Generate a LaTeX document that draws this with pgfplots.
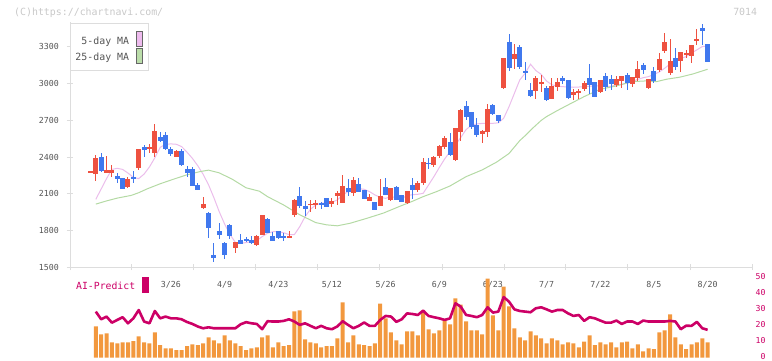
\documentclass[border=0pt]{standalone}
\usepackage{pgfplots}
\pgfplotsset{compat=1.18}
\usepackage{pgfplotstable}
\usepackage{fontspec}
\setmainfont{DejaVu Sans Mono}
\definecolor{upred}{HTML}{EE5140}
\definecolor{downblue}{HTML}{4078EE}
\definecolor{mafive}{HTML}{EBBDEB}
\definecolor{matwentyfive}{HTML}{B4DAA4}
\definecolor{mafivefill}{HTML}{EEBBEE}
\definecolor{matwentyfivefill}{HTML}{BBDDAA}
\definecolor{volorange}{HTML}{F2983E}
\definecolor{aimag}{HTML}{CC0066}
\definecolor{axisgray}{HTML}{DDDDDD}
\definecolor{labelgray}{HTML}{555555}
\definecolor{wmgray}{HTML}{C8C8C8}
\newcommand\tickfont{\fontsize{8.3}{9}\selectfont}
\newcommand\bigfont{\fontsize{9.9}{11}\selectfont}

\pgfplotstableread{
i o h l c
-1 2282 2282 2282 2282
0 2266 2418 2206 2394
2 2274 2410 2268 2296
3 2268 2334 2236 2296
6 2160 2241 2151 2219
8 2309 2467 2296 2467
10 2467 2508 2432 2481
11 2432 2671 2404 2614
15 2404 2459 2399 2451
20 1988 2073 1977 2015
26 1662 1708 1616 1708
30 1686 1763 1675 1757
31 1768 1928 1765 1928
36 1746 1795 1743 1757
37 1931 2056 1915 2051
40 2013 2053 1955 2021
41 2010 2048 1980 2026
44 2018 2064 1996 2045
45 2086 2127 2010 2108
46 2026 2255 2026 2165
48 2105 2238 2086 2214
51 2045 2100 2045 2075
53 2002 2222 2002 2083
55 2051 2149 2045 2149
58 2024 2124 2018 2124
60 2132 2208 2119 2190
61 2192 2393 2170 2361
63 2336 2407 2323 2402
64 2410 2502 2396 2491
65 2486 2573 2464 2560
67 2377 2638 2369 2638
68 2609 2793 2535 2785
72 2592 2622 2519 2614
73 2609 2834 2568 2793
76 2967 3209 2959 3209
78 3202 3324 3117 3242
82 2940 3063 2875 3049
83 3006 3071 2935 3010
85 2875 3044 2875 2984
86 2976 3044 2943 3014
89 2905 2959 2867 2932
90 2927 2957 2878 2943
91 2959 3017 2943 3006
94 2935 3030 2927 3030
97 2989 3063 2973 3036
98 3025 3063 2962 3063
100 3000 3057 2976 3057
101 3044 3185 3022 3117
103 2965 3038 2959 3038
105 3112 3253 3093 3199
106 3269 3411 3253 3342
107 3090 3364 3071 3185
109 3188 3258 3098 3258
110 3231 3275 3207 3247
111 3226 3316 3166 3316
112 3345 3448 3316 3362
}\uptable

\pgfplotstableread{
i o h l c
1 2404 2437 2276 2287
4 2247 2274 2187 2225
5 2230 2232 2141 2143
7 2238 2287 2187 2222
9 2486 2502 2404 2456
12 2562 2603 2527 2532
13 2581 2606 2459 2464
14 2467 2481 2413 2426
16 2451 2464 2328 2336
17 2304 2328 2241 2274
18 2304 2323 2162 2168
19 2170 2192 2130 2132
21 1942 1953 1744 1825
22 1605 1700 1548 1580
23 1798 1860 1735 1768
24 1700 1708 1567 1605
25 1844 1852 1732 1757
27 1722 1771 1692 1695
28 1735 1746 1705 1719
29 1724 1757 1692 1700
32 1896 1901 1779 1784
33 1757 1792 1719 1719
34 1795 1798 1735 1738
35 1760 1779 1719 1743
38 2084 2157 1983 2004
39 2002 2043 1923 1980
42 2026 2034 1980 2015
43 2064 2064 1993 1996
47 2149 2222 2086 2113
49 2181 2230 2113 2113
50 2132 2132 2062 2062
52 2034 2034 1969 1969
54 2157 2230 2089 2094
56 2160 2168 2051 2051
57 2089 2089 2034 2034
59 2170 2230 2056 2132
62 2352 2393 2306 2348
66 2524 2600 2410 2418
69 2818 2859 2704 2731
70 2769 2769 2633 2649
71 2665 2717 2562 2581
74 2826 2834 2742 2750
75 2742 2742 2682 2696
77 3340 3405 3106 3125
79 3297 3318 3117 3139
80 3104 3174 3030 3090
81 2948 3006 2894 2902
84 2965 2981 2861 2867
87 3046 3063 2997 3022
88 3030 3030 2872 2880
92 3046 3163 2916 2986
93 3014 3014 2889 2894
95 3063 3084 2943 2976
96 3038 3073 2951 2997
99 3071 3084 2949 3003
102 3155 3169 3079 3111
104 3103 3139 3003 3022
108 3210 3291 3112 3139
113 3454 3486 3316 3432
114 3324 3324 3172 3172
}\downtable

\pgfplotsset{candle/.style 2 args={draw=none, mark=none, forget plot,
  error bars/.cd, y dir=both, y explicit, error mark=none,
  error bar style={draw=#1, line width=#2}}}

\begin{document}
\begin{tikzpicture}[x=1pt,y=1pt]
\useasboundingbox (0,0) rectangle (772,361);
\begin{axis}[
  at={(70pt,93.5pt)}, anchor=south west,
  scale only axis, width=682pt, height=245.5pt,
  xmin=-4.807, xmax=122.27, ymin=1500, ymax=3502.3,
  clip=false,
  axis x line*=bottom, axis y line*=left,
  axis line style={draw=axisgray, line width=1pt},
  tick style={draw=axisgray, line width=1pt},
  tick align=center, major tick length=6pt,
  xtick={-4.807,6.745,18.297,29.85,41.40,52.95,64.51,76.06,87.61,99.16,110.72,122.27},
  xticklabels={},
  extra x ticks={14,24,34,44,54,64,74,84,94,104,114},
  extra x tick labels={3/26,4/9,4/23,5/12,5/26,6/9,6/23,7/7,7/22,8/5,8/20},
  extra x tick style={tick style={draw=none},
    xticklabel style={anchor=base, yshift=-17.5pt, inner sep=0pt, font=\tickfont, text=labelgray}},
  ytick={1500,1800,2100,2400,2700,3000,3300},
  yticklabels={1500,1800,2100,2400,2700,3000,3300},
  yticklabel style={anchor=east, inner sep=0pt, xshift=-8pt, font=\tickfont, text=labelgray},
]
\addplot[mafive, line width=1pt] coordinates {
(0,2056)(1,2140)(2,2225)(3,2300)(4,2309)(5,2300)(6,2270)(7,2235)(8,2225)(9,2262)
(10,2320)(11,2395)(12,2480)(13,2505)(14,2508)(15,2505)(16,2486)(17,2440)(18,2390)(19,2330)
(20,2260)(21,2175)(22,2070)(23,1955)(24,1855)(25,1770)(26,1705)(27,1697)(28,1703)(29,1711)
(30,1719)(31,1752)(32,1779)(33,1792)(34,1792)(35,1784)(36,1768)(37,1768)(38,1833)(39,1915)
(40,1975)(41,2010)(42,2024)(43,2024)(44,2032)(45,2051)(46,2092)(47,2119)(48,2138)(49,2143)
(50,2138)(51,2119)(52,2092)(53,2073)(54,2064)(55,2078)(56,2070)(57,2064)(58,2086)(59,2094)
(60,2097)(61,2105)(62,2173)(63,2241)(64,2315)(65,2385)(66,2445)(67,2500)(68,2560)(69,2625)
(70,2660)(71,2671)(72,2675)(73,2676)(74,2676)(75,2680)(76,2717)(77,2812)(78,2921)(79,3030)
(80,3084)(81,3158)(82,3106)(83,3075)(84,3020)(85,2990)(86,2978)(87,2975)(88,2972)(89,2970)
(90,2972)(91,2975)(92,2978)(93,2980)(94,2981)(95,2978)(96,2978)(97,2989)(98,2995)(99,3003)
(100,3016)(101,3035)(102,3048)(103,3057)(104,3075)(105,3095)(106,3125)(107,3160)(108,3193)(109,3205)
(110,3220)(111,3250)(112,3275)(113,3302)(114,3305)};
\addplot[matwentyfive, line width=1pt] coordinates {
(0,2017)(2,2043)(4,2066)(6.6,2088)(8,2110)(9.5,2140)(12,2183)(14.4,2219)(16.9,2255)(19.4,2282)
(21,2294)(23,2272)(25.5,2218)(28,2150)(30.5,2122)(32,2078)(35,2010)(38,1930)(41,1866)(43,1848)
(45,1840)(47.4,1861)(50.5,1901)(53.6,1944)(56.7,2000)(59,2040)(61,2078)(63.5,2119)(66,2165)(69,2241)
(72,2296)(74.7,2360)(77,2430)(79,2535)(80,2575)(81.5,2640)(83,2700)(84,2731)(86,2780)(88,2826)
(91,2894)(94,2954)(97,2981)(100,3016)(102.6,3022)(104.5,3016)(106.4,3036)(108.8,3052)(111.3,3079)(114,3117)};
% wicks
\addplot[candle={upred}{1pt}]
  table[x=i, y expr={(\thisrow{h}+\thisrow{l})/2}, y error expr={(\thisrow{h}-\thisrow{l})/2}] {\uptable};
\addplot[candle={downblue}{1pt}]
  table[x=i, y expr={(\thisrow{h}+\thisrow{l})/2}, y error expr={(\thisrow{h}-\thisrow{l})/2}] {\downtable};
% bodies
\addplot[candle={upred}{5pt}]
  table[x=i, y expr={(\thisrow{o}+\thisrow{c})/2}, y error expr={max(abs(\thisrow{c}-\thisrow{o})/2,4)}] {\uptable};
\addplot[candle={downblue}{5pt}]
  table[x=i, y expr={(\thisrow{o}+\thisrow{c})/2}, y error expr={max(abs(\thisrow{c}-\thisrow{o})/2,4)}] {\downtable};
\end{axis}

\begin{axis}[
  at={(70pt,3.3pt)}, anchor=south west,
  scale only axis, width=682pt, height=80pt,
  xmin=-4.807, xmax=122.27, ymin=0, ymax=50,
  axis x line=none, axis y line*=right,
  y axis line style={draw=none},
  major tick length=0pt, tick style={draw=none},
  ytick={0,10,20,30,40,50},
  yticklabels={0,10,20,30,40,50},
  yticklabel style={anchor=east, inner sep=0pt, xshift=13.7pt, yshift=1.2pt, font=\fontsize{8.2}{9}\selectfont, text=aimag},
]
\addplot[ybar, bar width=4pt, bar shift=0pt, fill=volorange, draw=none] coordinates {
(0,19.6)(1,14.6)(2,15.2)(3,9.6)(4,9.0)(5,9.6)(6,9.6)(7,10.4)(8,13.3)(9,9.6)
(10,9.0)(11,15.8)(12,7.8)(13,5.9)(14,5.9)(15,4.7)(16,4.7)(17,7.2)(18,8.4)(19,7.8)
(20,9.0)(21,12.7)(22,10.8)(23,9.0)(24,14.0)(25,10.8)(26,9.0)(27,7.2)(28,4.7)(29,5.9)
(30,6.5)(31,12.7)(32,14.0)(33,6.5)(34,9.6)(35,7.2)(36,7.8)(37,28.9)(38,29.5)(39,11.5)
(40,9.6)(41,9.0)(42,6.5)(43,7.2)(44,7.2)(45,12.1)(46,34.5)(47,9.6)(48,14.0)(49,8.4)
(50,7.8)(51,7.2)(52,9.0)(53,33.8)(54,24.5)(55,15.8)(56,10.8)(57,8.4)(58,16.4)(59,16.4)
(60,14.0)(61,29.5)(62,17.7)(63,15.2)(64,17.0)(65,23.3)(66,20.8)(67,37.0)(68,33.2)(69,22.7)
(70,17.0)(71,17.0)(72,14.6)(73,49.4)(74,26.4)(75,17.0)(76,44.4)(77,32.0)(78,18.3)(79,12.7)
(80,10.8)(81,16.4)(82,14.0)(83,12.1)(84,9.0)(85,12.1)(86,10.8)(87,8.4)(88,9.6)(89,9.0)
(90,6.5)(91,10.1)(92,14.0)(93,7.8)(94,9.6)(95,8.4)(96,9.6)(97,6.5)(98,9.6)(99,10.1)
(100,5.9)(101,8.4)(102,4.0)(103,5.9)(104,5.3)(105,15.8)(106,17.0)(107,27.0)(108,12.7)(109,8.4)
(110,5.3)(111,8.4)(112,9.6)(113,12.1)(114,9.6)};
\addplot[aimag, line width=2.6pt, line join=round] coordinates {
(0,28.8)(1,24.0)(2,25.7)(3,21.9)(4,23.6)(5,25.3)(6,21.5)(7,24.6)(8,29.8)(9,22.6)
(10,21.5)(11,29.2)(12,24.6)(13,25.7)(14,24.6)(15,24.6)(16,24.0)(17,22.3)(18,21.1)(19,19.5)
(20,18.4)(21,19.0)(22,18.4)(23,18.4)(24,18.4)(25,18.4)(26,18.4)(27,20.9)(28,22.2)(29,21.5)
(30,21.1)(31,17.8)(32,22.8)(33,22.6)(34,22.6)(35,23.0)(36,24.0)(37,22.6)(38,20.5)(39,21.5)
(40,19.9)(41,18.4)(42,19.9)(43,18.4)(44,17.8)(45,19.5)(46,22.8)(47,20.5)(48,18.4)(49,19.9)
(50,22.0)(51,19.9)(52,19.9)(53,23.6)(54,26.1)(55,25.7)(56,22.4)(57,24.0)(58,27.7)(59,27.3)
(60,26.7)(61,29.4)(62,26.1)(63,25.3)(64,24.6)(65,23.6)(66,24.6)(67,34.0)(68,31.9)(69,26.7)
(70,26.1)(71,25.3)(72,26.7)(73,31.5)(74,28.2)(75,28.8)(76,37.9)(77,35.0)(78,30.2)(79,29.2)
(80,28.8)(81,28.4)(82,30.9)(83,31.5)(84,30.2)(85,28.8)(86,29.8)(87,29.8)(88,27.7)(89,26.1)
(90,26.7)(91,23.0)(92,25.3)(93,24.6)(94,23.2)(95,21.9)(96,21.9)(97,23.2)(98,21.1)(99,22.6)
(100,22.6)(101,21.1)(102,23.2)(103,22.6)(104,22.6)(105,22.6)(106,22.6)(107,23.0)(108,22.6)(109,17.8)
(110,20.0)(111,19.9)(112,22.4)(113,18.4)(114,17.4)};
\end{axis}

% watermark and code
\node[anchor=base west, inner sep=0pt, font=\bigfont, text=wmgray] at (14,345.3) {(C)https://chartnavi.com/};
\node[anchor=base east, inner sep=0pt, font=\bigfont, text=wmgray] at (757.3,345.3) {7014};
% MA legend
\draw[draw=axisgray, fill=white, line width=1pt] (70,337) rectangle (148.3,290);
\node[anchor=base east, inner sep=0pt, font=\bigfont, text=labelgray] at (129.3,316.8) {5-day MA};
\node[anchor=base east, inner sep=0pt, font=\bigfont, text=labelgray] at (129.3,300) {25-day MA};
\draw[draw=black!60, fill=mafivefill, line width=0.8pt] (136,330) rectangle (142.7,314.3);
\draw[draw=black!60, fill=matwentyfivefill, line width=0.8pt] (136,312.7) rectangle (142.7,297.7);
% AI-Predict label
\node[anchor=base west, inner sep=0pt, font=\fontsize{9.8}{11}\selectfont, text=aimag] at (76,71) {AI-Predict};
\fill[aimag] (142.3,84.3) rectangle (149,68.3);
\end{tikzpicture}
\end{document}
